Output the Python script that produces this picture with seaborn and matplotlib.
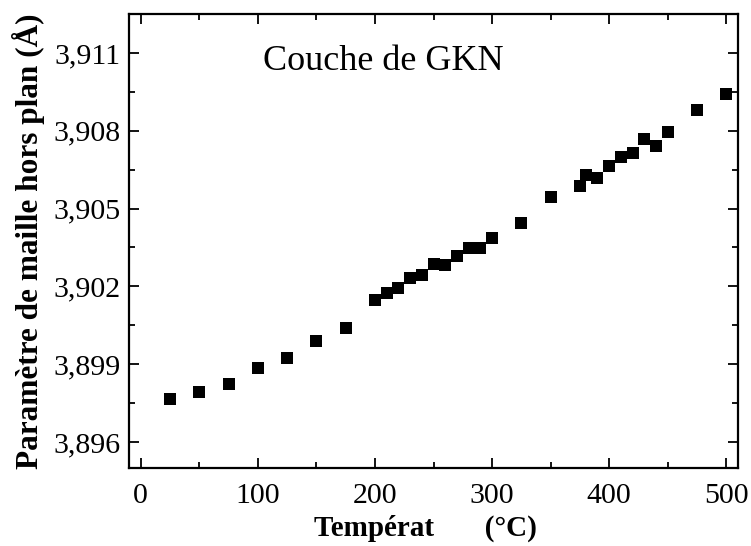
import matplotlib
matplotlib.use("Agg")
import matplotlib.pyplot as plt
import seaborn as sns
import pandas as pd
from matplotlib.ticker import MultipleLocator, FuncFormatter

temperature = [25, 50, 75, 100, 125, 150, 175, 200, 210, 220, 230, 240, 250, 260,
               270, 280, 290, 300, 325, 350, 375, 380, 390, 400, 410, 420, 430,
               440, 450, 475, 500]
lattice = [3.89767, 3.89793, 3.89825, 3.89885, 3.89922, 3.89991, 3.90040, 3.90149,
           3.90175, 3.90195, 3.90232, 3.90245, 3.90286, 3.90284, 3.90316, 3.90348,
           3.90348, 3.90387, 3.90444, 3.90545, 3.90586, 3.90628, 3.90618, 3.90663,
           3.90699, 3.90714, 3.90768, 3.90743, 3.90794, 3.90881, 3.90943]

title_text = "Couche de GKN"
xlabel = "Températ       (°C)"
ylabel = "Paramètre de maille hors plan (Å)"

sns.set_style("ticks")
plt.rcParams["font.family"] = ["Liberation Serif", "DejaVu Serif"]
plt.rcParams["text.color"] = "black"
plt.rcParams["axes.labelcolor"] = "black"

df = pd.DataFrame({"T": temperature, "a": lattice})

fig = plt.figure(figsize=(7.51, 5.46), dpi=100)
ax = fig.add_axes([0.1718, 0.1429, 0.8109, 0.8315])

sns.scatterplot(data=df, x="T", y="a", marker="s", s=70, color="black",
                edgecolor="black", linewidth=0, ax=ax, legend=False)

ax.set_xlim(-10, 510)
ax.set_ylim(3.895, 3.9125)

ax.xaxis.set_major_locator(MultipleLocator(100))
ax.xaxis.set_minor_locator(MultipleLocator(50))
ax.set_yticks([3.896, 3.899, 3.902, 3.905, 3.908, 3.911])
ax.set_yticks([3.8975, 3.9005, 3.9035, 3.9065, 3.9095, 3.9125], minor=True)
ax.yaxis.set_major_formatter(FuncFormatter(lambda v, p: f"{v:.3f}".replace(".", ",")))

ax.tick_params(which="both", direction="in", top=True, right=True,
               labelsize=21.5, width=1.3, colors="black")
ax.tick_params(which="major", length=7)
ax.tick_params(which="minor", length=4.3)
ax.tick_params(axis="x", pad=11)
ax.tick_params(axis="y", pad=6)

for sp in ax.spines.values():
    sp.set_linewidth(1.6)
    sp.set_color("black")

ax.set_xlabel(xlabel, fontsize=21, fontweight="bold", labelpad=4, color="black")
ax.xaxis.label.set_x(0.487)
ax.set_ylabel(ylabel, fontsize=22.5, fontweight="bold", labelpad=6, color="black")

ax.text(104, 3.91066, title_text, fontsize=26, va="center", ha="left", color="black")

fig.savefig("out.png", dpi=100)
